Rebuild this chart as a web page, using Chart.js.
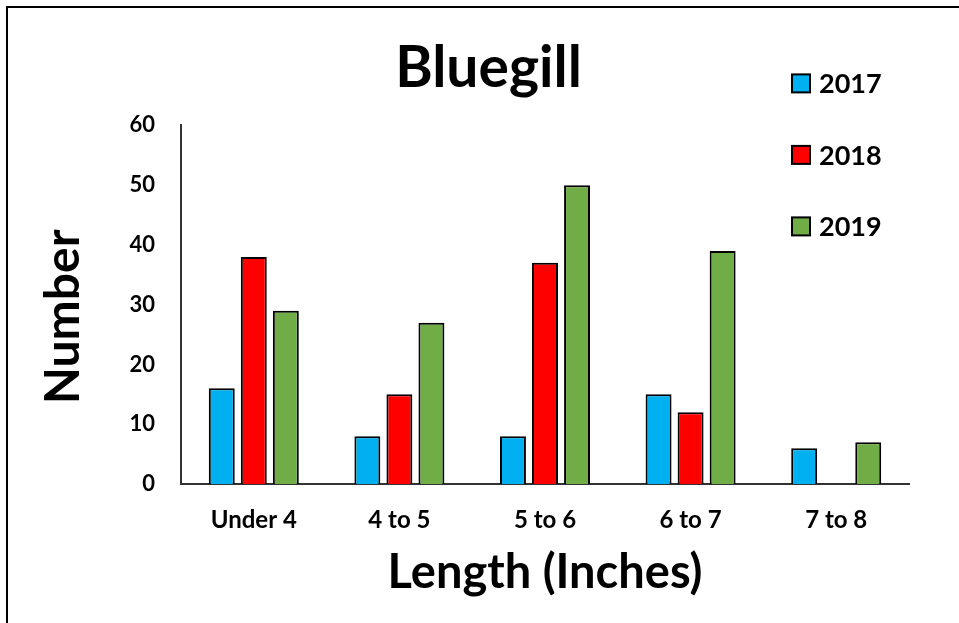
<!DOCTYPE html>
<html>
<head>
<meta charset="utf-8">
<title>Bluegill</title>
<script src="https://cdn.jsdelivr.net/npm/chart.js@4/dist/chart.umd.min.js"></script>
<style>
    html, body { margin: 0; padding: 0; background: #fff; overflow: hidden; }
    #frame {
        position: absolute;
        left: 6px;
        top: 6px;
        width: 2000px;
        height: 2000px;
        border-left: 2px solid #000;
        border-top: 2px solid #000;
    }
    #chart { position: absolute; left: 0; top: 0; }
</style>
</head>
<body>
<div id="frame"></div>
<canvas id="chart" width="959" height="623"></canvas>
<script>
// Chart data
const categories  = ["Under 4", "4 to 5", "5 to 6", "6 to 7", "7 to 8"];
const seriesNames = ["2017", "2018", "2019"];
const values2017  = [16, 8, 8, 15, 6];
const values2018  = [38, 15, 37, 12, 0];
const values2019  = [29, 27, 50, 39, 7];
const yMax        = 60;
const yStep       = 10;

const seriesColors = ["#00B0F0", "#FF0000", "#70AD47"];
const fontFamily   = "Lato, 'Liberation Sans', sans-serif";

/**
 * Draws the legend as a column in the top right corner, over the plot.
 */
const columnLegend = {
    id: "columnLegend",
    afterDraw(chart)
    {
        const ctx  = chart.ctx;
        const area = chart.chartArea;

        ctx.save();
        ctx.font         = "bold 27px " + fontFamily;
        ctx.textBaseline = "middle";
        ctx.textAlign    = "left";

        chart.data.datasets.forEach((dataset, i) => {
            const x = area.right - 117;
            const y = area.top - 42 + i * 71.5;

            ctx.fillStyle   = dataset.backgroundColor;
            ctx.strokeStyle = "#000";
            ctx.lineWidth   = 2;
            ctx.fillRect(x, y - 9, 18, 18);
            ctx.strokeRect(x, y - 9, 18, 18);

            ctx.fillStyle = "#000";
            ctx.fillText(dataset.label, x + 27, y + 1);
        });

        ctx.restore();
    }
};

function buildDatasets()
{
    return [values2017, values2018, values2019].map((values, i) => ({
        label: seriesNames[i],
        data: values,
        backgroundColor: seriesColors[i],
        borderColor: "#000",
        // no outline for an empty bar
        borderWidth: (c) => (c.raw ? 2 : 0),
        categoryPercentage: 0.66,
        barPercentage: 0.81
    }));
}

function draw()
{
    new Chart(document.getElementById("chart"), {
        type: "bar",
        data: {
            labels: categories,
            datasets: buildDatasets()
        },
        plugins: [columnLegend],
        options: {
            responsive: false,
            animation: false,
            devicePixelRatio: 1,
            layout: {
                padding: { left: 68, right: 50, top: 0, bottom: 0 }
            },
            plugins: {
                legend: { display: false },
                tooltip: { enabled: false },
                title: {
                    display: true,
                    text: "Bluegill",
                    color: "#000",
                    font: { family: fontFamily, size: 57, weight: "bold" },
                    padding: { top: 34, bottom: 23 }
                }
            },
            scales: {
                x: {
                    grid: { display: false, drawTicks: false },
                    border: { display: true, color: "#333", width: 2 },
                    ticks: {
                        color: "#000",
                        padding: 22,
                        font: { family: fontFamily, size: 24, weight: "bold" }
                    },
                    title: {
                        display: true,
                        text: "Length (Inches)",
                        color: "#000",
                        font: { family: fontFamily, size: 47, weight: "bold" },
                        padding: { top: 0, bottom: 22 }
                    },
                    afterFit: (scale) => { scale.height = 139; }
                },
                y: {
                    min: 0,
                    max: yMax,
                    grid: { display: false, drawTicks: false },
                    border: { display: true, color: "#333", width: 2 },
                    ticks: {
                        stepSize: yStep,
                        color: "#000",
                        padding: 26,
                        font: { family: fontFamily, size: 22, weight: "bold" }
                    },
                    title: {
                        display: true,
                        // trailing en space sits the word a little lower, as in the original
                        text: "Number\u2002",
                        color: "#000",
                        font: { family: fontFamily, size: 48, weight: "bold" },
                        // pulled left of the scale box, beside the title centring
                        padding: { top: -33, bottom: 0 }
                    },
                    afterFit: (scale) => { scale.width = 113; }
                }
            }
        }
    });
}

document.fonts.load("bold 20px Lato").then(draw, draw);
</script>
</body>
</html>
